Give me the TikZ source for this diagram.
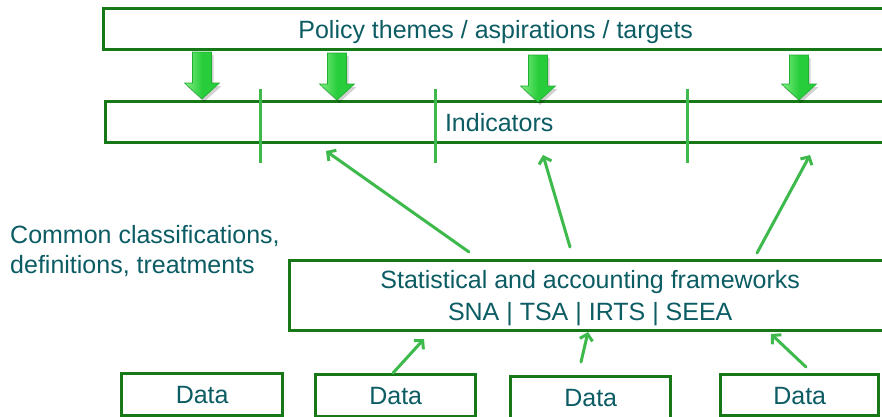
\documentclass[tikz,border=0pt]{standalone}
\usepackage{fontspec}
\setmainfont{Liberation Sans}
\usetikzlibrary{arrows.meta}
\definecolor{boxgreen}{RGB}{22,120,22}
\definecolor{linegreen}{RGB}{62,186,76}
\definecolor{txt}{RGB}{12,92,100}
\definecolor{arrowgreen}{RGB}{40,205,60}
\definecolor{arrowlight}{RGB}{130,238,130}
\newcommand\greenblockarrow[3]{%
  \fill[black,opacity=0.18] ({#1-9.5+2},{#2+3}) -- ({#1+9.5+2},{#2+3}) -- ({#1+9.5+2},{#3-16+3}) -- ({#1+17.5+2},{#3-16+3}) -- ({#1+2},{#3+3}) -- ({#1-17.5+2},{#3-16+3}) -- ({#1-9.5+2},{#3-16+3}) -- cycle;
  \shade[left color=arrowlight, right color=arrowgreen, middle color=arrowgreen, draw=arrowgreen!85!black, line width=0.6pt]
    ({#1-9.5},#2) -- ({#1+9.5},#2) -- ({#1+9.5},{#3-16}) -- ({#1+17.5},{#3-16}) -- (#1,#3) -- ({#1-17.5},{#3-16}) -- ({#1-9.5},{#3-16}) -- cycle;}
\begin{document}
\begin{tikzpicture}[x=1pt,y=-1pt,
  box/.style={draw=boxgreen, line width=3.4pt, fill=white, inner sep=0pt,
    text height=18pt, text depth=0pt, anchor=north west,
    font=\fontsize{25}{32}\selectfont, text=txt},
  thinarrow/.style={draw=linegreen, line width=3pt, line cap=round,
    -{Straight Barb[length=6pt,width=13pt,line width=3pt]}},
  sepline/.style={draw=linegreen, line width=3pt}]
\useasboundingbox (0,0) rectangle (882,416);
\fill[white] (0,0) rectangle (882,416);

\node[box, minimum width=784pt, minimum height=41pt] (policy) at (102,7) {Policy themes / aspirations / targets};
\node[box, minimum width=787pt, minimum height=41pt] (ind) at (104,100) {Indicators};
\node[box, minimum width=601pt, minimum height=70pt, align=center, text height=50pt, text depth=0pt] (stat) at (288,259) {Statistical and accounting frameworks\\SNA | TSA | IRTS | SEEA};
\node[box, minimum width=161pt, minimum height=42pt] (d1) at (120,372) {Data};
\node[box, minimum width=160pt, minimum height=42pt] (d2) at (314,373) {Data};
\node[box, minimum width=160pt, minimum height=42pt] (d3) at (509,375) {Data};
\node[box, minimum width=158pt, minimum height=41pt] (d4) at (719,373) {Data};

\node[anchor=base west, align=left, inner sep=0pt, text=txt, font=\fontsize{25}{30}\selectfont] (common) at (10,273) {Common classifications,\\definitions, treatments};

% separators on the indicators bar
\draw[sepline] (260,89) -- (260,163);
\draw[sepline] (435,89) -- (435,163);
\draw[sepline] (687,89) -- (687,163);

% block arrows from policy to indicators
\greenblockarrow{202}{52}{99}
\greenblockarrow{337}{53}{100}
\greenblockarrow{538}{55}{102}
\greenblockarrow{799}{55}{100}

% arrows from frameworks to indicators
\coordinate (a1s) at (469,252); \coordinate (a1e) at (326,151);
\coordinate (a2s) at (570,247); \coordinate (a2e) at (543,155);
\coordinate (a3s) at (757,253); \coordinate (a3e) at (810,155);
\draw[thinarrow] (a1s) -- (a1e);
\draw[thinarrow] (a2s) -- (a2e);
\draw[thinarrow] (a3s) -- (a3e);

% arrows from data to frameworks
\coordinate (b1s) at (393,373); \coordinate (b1e) at (424,339);
\coordinate (b2s) at (581,362); \coordinate (b2e) at (588,332);
\coordinate (b3s) at (806,367); \coordinate (b3e) at (771,334);
\draw[thinarrow] (b1s) -- (b1e);
\draw[thinarrow] (b2s) -- (b2e);
\draw[thinarrow] (b3s) -- (b3e);
\end{tikzpicture}
\end{document}
